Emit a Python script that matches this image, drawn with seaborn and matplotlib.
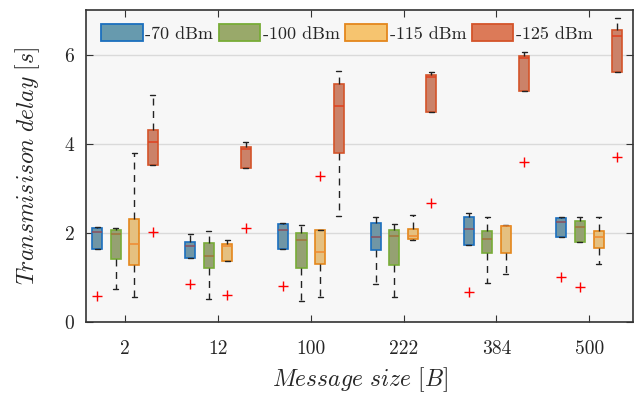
import pandas as pd
import numpy as np
import matplotlib
matplotlib.use("Agg")
import matplotlib.pyplot as plt
from matplotlib.patches import Patch
import seaborn as sns

# Data (box summary per message size)
sizes = ['2', '12', '100', '222', '384', '500']
levels = ['-70 dBm', '-100 dBm', '-115 dBm', '-125 dBm']

# -70 dBm
lo_70 = [1.64, 1.43, 1.63, 0.86, 1.72, 1.91]
q1_70 = [1.64, 1.43, 1.63, 1.61, 1.72, 1.91]
med_70 = [2.01, 1.71, 2.06, 1.90, 2.09, 2.24]
q3_70 = [2.10, 1.79, 2.19, 2.23, 2.35, 2.34]
hi_70 = [2.12, 1.98, 2.21, 2.35, 2.44, 2.36]
out_70 = [0.59, 0.86, 0.81, None, 0.68, 1.02]

# -100 dBm
lo_100 = [0.75, 0.52, 0.46, 0.56, 0.87, 1.79]
q1_100 = [1.42, 1.20, 1.20, 1.27, 1.55, 1.79]
med_100 = [1.97, 1.49, 1.83, 1.92, 1.86, 2.14]
q3_100 = [2.07, 1.77, 2.00, 2.06, 2.03, 2.27]
hi_100 = [2.10, 2.03, 2.17, 2.20, 2.35, 2.36]
out_100 = [None, None, None, None, None, 0.79]

# -115 dBm
lo_115 = [0.56, 1.37, 0.56, 1.85, 1.08, 1.29]
q1_115 = [1.27, 1.37, 1.29, 1.87, 1.55, 1.67]
med_115 = [1.75, 1.71, 1.56, 1.92, 2.15, 1.90]
q3_115 = [2.32, 1.76, 2.06, 2.09, 2.16, 2.03]
hi_115 = [3.78, 1.85, 2.06, 2.40, 2.18, 2.35]
out_115 = [None, 0.61, 3.27, None, None, None]

# -125 dBm
lo_125 = [3.53, 3.45, 2.38, 4.70, 5.18, 5.60]
q1_125 = [3.53, 3.45, 3.80, 4.70, 5.18, 5.60]
med_125 = [4.03, 3.89, 4.84, 5.49, 5.92, 6.41]
q3_125 = [4.30, 3.93, 5.35, 5.55, 5.97, 6.56]
hi_125 = [5.09, 4.04, 5.63, 5.60, 6.06, 6.81]
out_125 = [2.01, 2.10, None, 2.68, 3.58, 3.69]

face_colors = ['#679AAE', '#99A96A', '#F6C46F', '#DC7A58']
edge_colors = ['#1B6FBE', '#78AC38', '#E4871C', '#D4542A']
median_colors = ['#8A4F5E', '#A0743A', '#F08A30', '#E0401E']

summary = {
    '-70 dBm': (lo_70, q1_70, med_70, q3_70, hi_70, out_70),
    '-100 dBm': (lo_100, q1_100, med_100, q3_100, hi_100, out_100),
    '-115 dBm': (lo_115, q1_115, med_115, q3_115, hi_115, out_115),
    '-125 dBm': (lo_125, q1_125, med_125, q3_125, hi_125, out_125),
}

# five points per box give exactly min/q1/median/q3/max
rows = []
out_rows = []
for lv, (lo, q1, med, q3, hi, out) in summary.items():
    for i, s in enumerate(sizes):
        for v in (lo[i], q1[i], med[i], q3[i], hi[i]):
            rows.append({'size': s, 'level': lv, 'delay': v})
        if out[i] is not None:
            out_rows.append({'size': s, 'level': lv, 'delay': out[i]})
df = pd.DataFrame(rows)
df_out = pd.DataFrame(out_rows)

sns.set_style("ticks")
plt.rcParams['font.family'] = ['cmr10', 'DejaVu Serif']
plt.rcParams['mathtext.fontset'] = 'cm'
plt.rcParams['axes.formatter.use_mathtext'] = True

fig = plt.figure(figsize=(6.38, 3.98), dpi=100)
ax = fig.add_axes([0.135, 0.191, 0.857, 0.784])
ax.set_facecolor('#F7F7F7')

for k, lv in enumerate(levels):
    sns.boxplot(data=df[df['level'] == lv], x='size', y='delay', hue='level',
                order=sizes, hue_order=levels, palette=face_colors,
                dodge=True, width=0.8, gap=0.46, whis=(0, 100),
                showfliers=False, linecolor=edge_colors[k], linewidth=1.2,
                medianprops=dict(color=median_colors[k], linewidth=1.1),
                whiskerprops=dict(color='#222222', linestyle=(0, (5, 4)), linewidth=1.0),
                capprops=dict(color='#222222', linewidth=1.0),
                legend=False, ax=ax)

sns.stripplot(data=df_out, x='size', y='delay', hue='level',
              order=sizes, hue_order=levels, palette=['red'] * 4,
              dodge=True, jitter=False, marker='+', size=6.5, linewidth=1.0,
              legend=False, ax=ax)

ax.set_ylim(0, 7)
ax.set_xlim(-0.42, 5.47)
ax.set_yticks([0, 2, 4, 6])
ax.yaxis.grid(True, color='#DADADA', linewidth=1.0)
ax.set_axisbelow(True)
ax.tick_params(direction='in', top=True, right=True, length=5, labelsize=14,
               color='#333333')
ax.tick_params(axis='x', pad=13)
ax.tick_params(axis='y', pad=8)
for sp in ax.spines.values():
    sp.set_visible(True)
    sp.set_color('#333333')
    sp.set_linewidth(1.2)

ax.set_xlabel(r'$Message\ size\ [B]$', fontsize=17, labelpad=5)
ax.set_ylabel(r'$Transmisison\ delay\ [s]$', fontsize=17, labelpad=16)

handles = [Patch(facecolor=face_colors[i], edgecolor=edge_colors[i], linewidth=1.3)
           for i in range(4)]
ax.legend(handles, levels, loc='upper center', bbox_to_anchor=(0.477, 0.995),
          ncol=4, frameon=False, fontsize=13, handlelength=2.3, handleheight=1.1,
          handletextpad=0.15, columnspacing=0.3, borderaxespad=0.3)

plt.savefig("out.png", dpi=100)
